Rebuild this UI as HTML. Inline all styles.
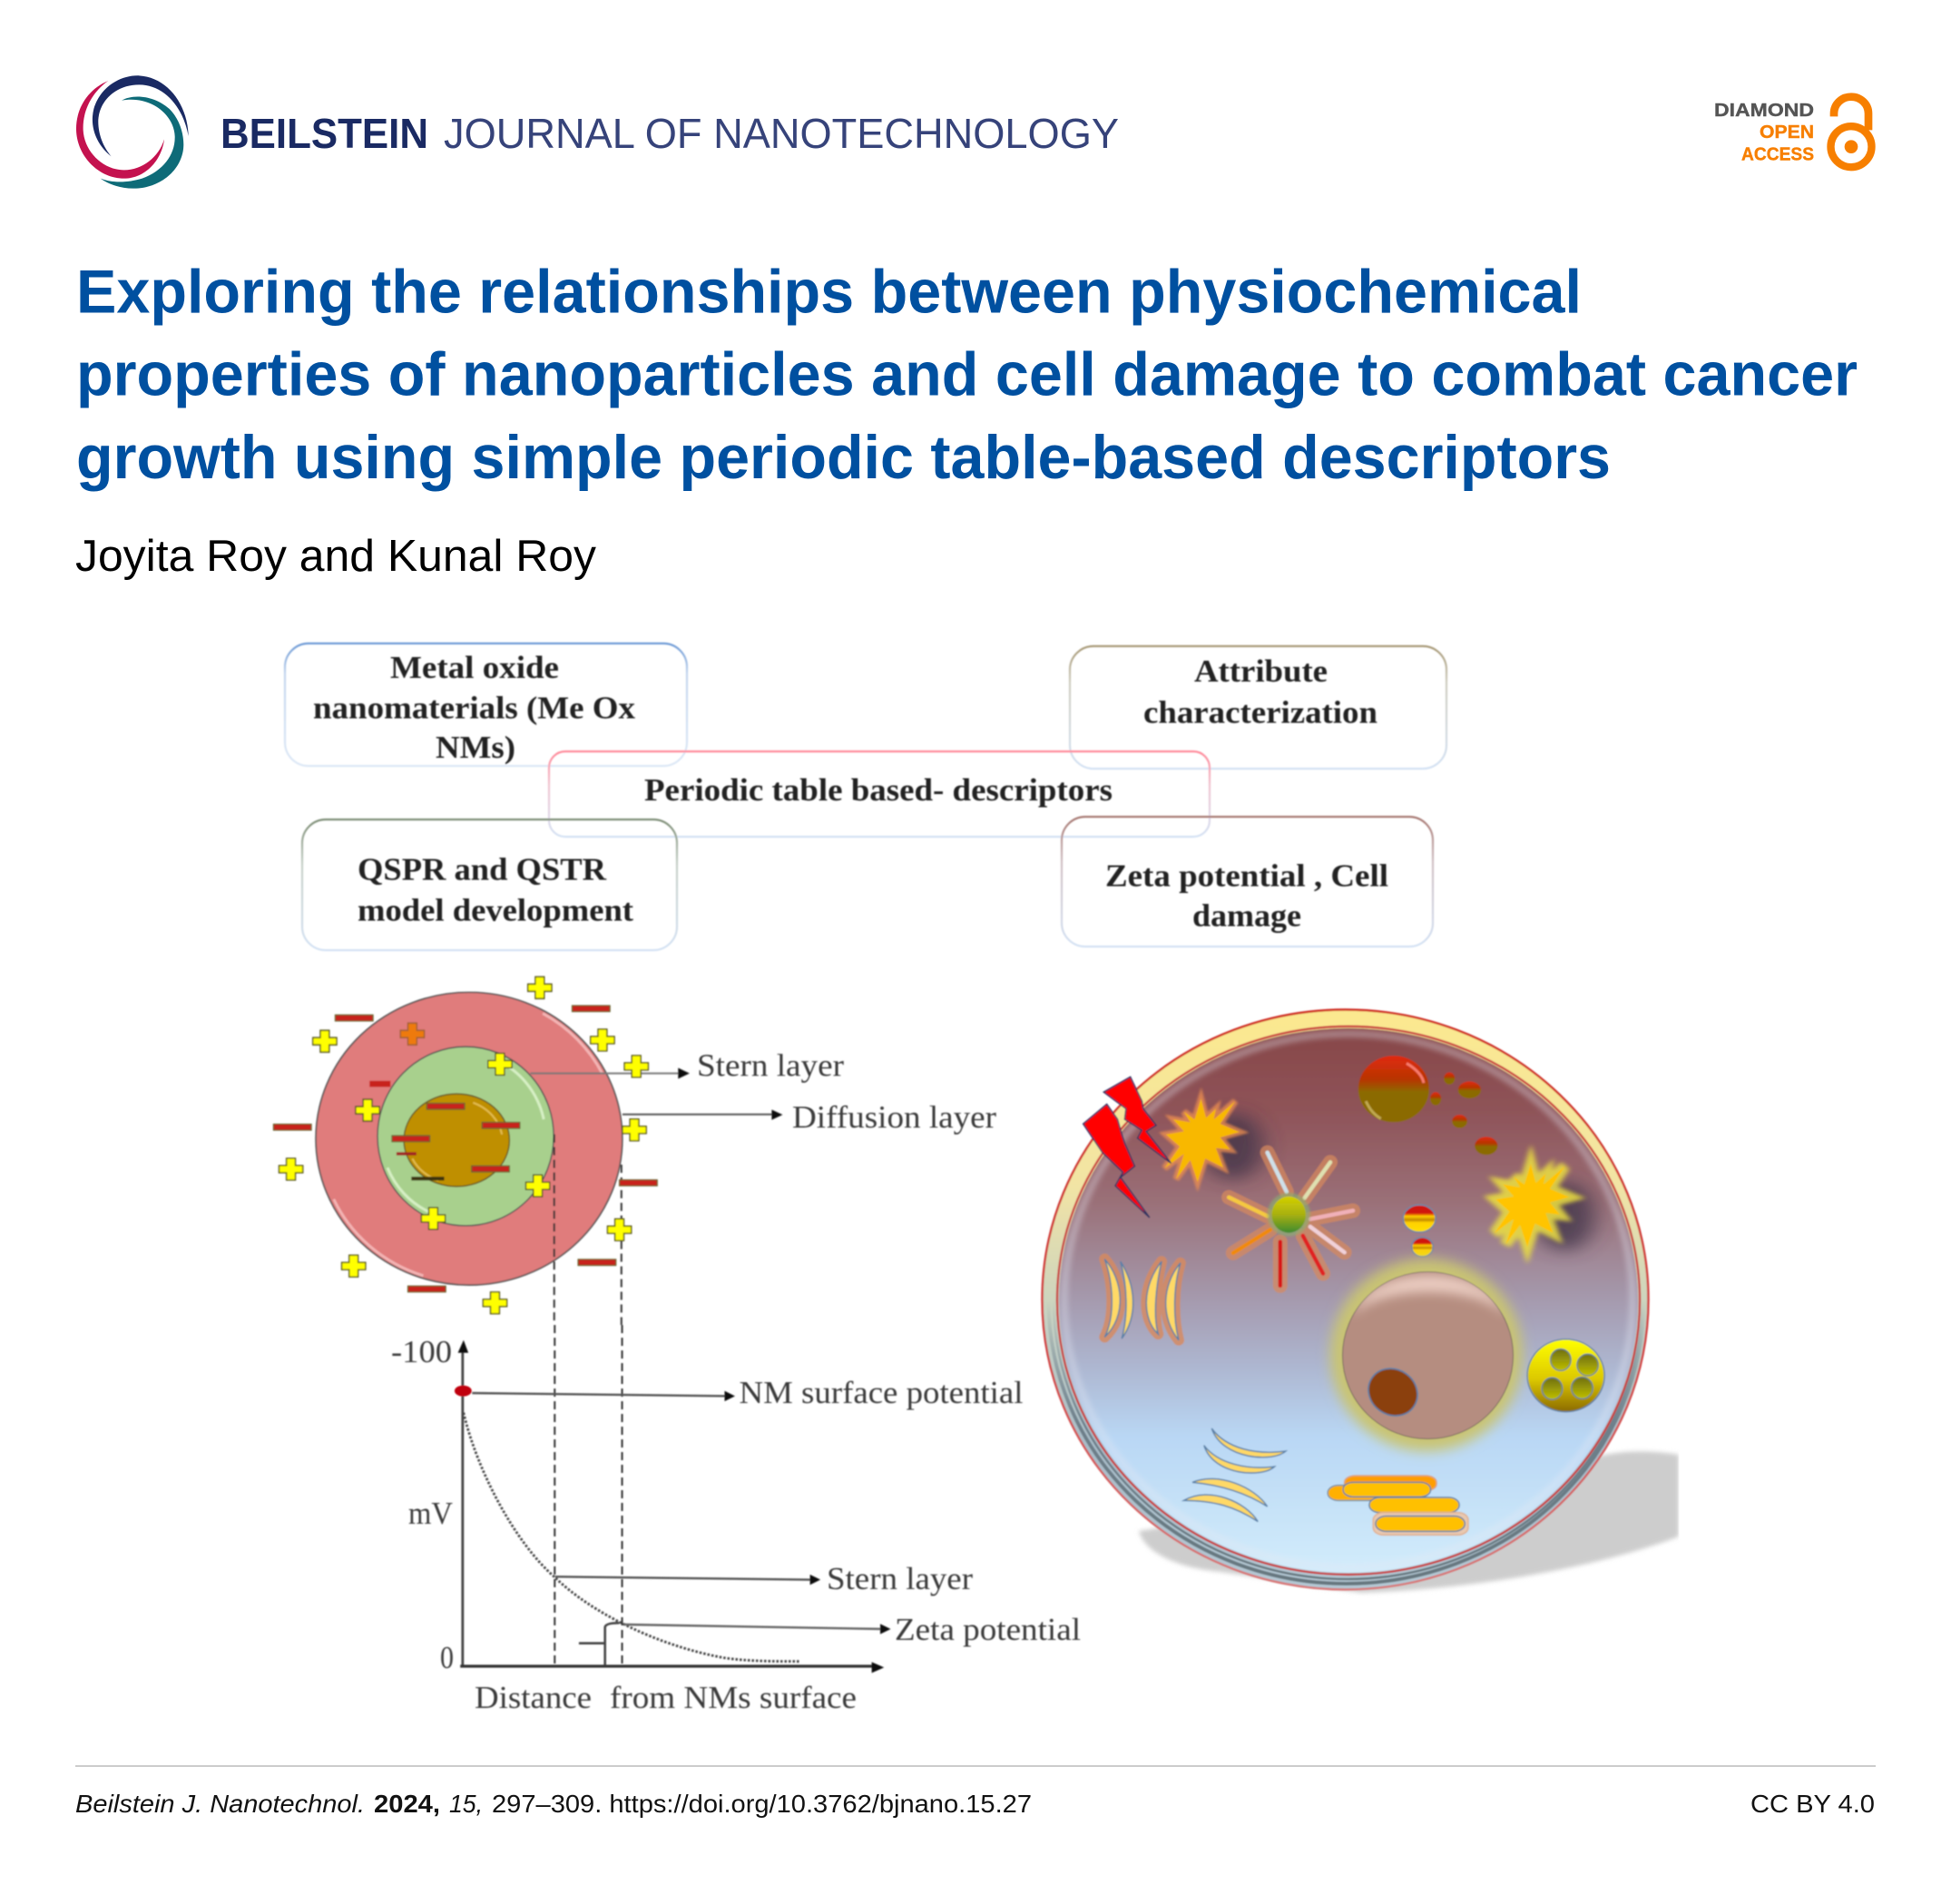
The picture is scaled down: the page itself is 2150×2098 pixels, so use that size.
<!DOCTYPE html>
<html lang="en">
<head>
<meta charset="utf-8">
<title>Beilstein J. Nanotechnol. graphical abstract</title>
<style>
html,body{margin:0;padding:0;background:#fff}
svg{display:block}
.ns,.ns *{vector-effect:non-scaling-stroke}
.h{font-family:"Liberation Sans",sans-serif}
.t{font-family:"Liberation Sans",sans-serif;font-weight:bold;font-size:68px;fill:#0050a0}
.b{font-family:"Liberation Serif",serif;font-weight:bold;font-size:35px;fill:#222}
.s{font-family:"Liberation Serif",serif;font-size:35px;fill:#3a3a3a}
.f{font-family:"Liberation Sans",sans-serif;font-size:28px;fill:#111}
</style>
</head>
<body>
<svg xmlns="http://www.w3.org/2000/svg" width="2150" height="2098" viewBox="0 0 2150 2098">
<defs>
  <filter id="bl" x="-5%" y="-5%" width="110%" height="110%"><feGaussianBlur stdDeviation="0.9"/></filter>
  <filter id="bl3" x="-30%" y="-30%" width="160%" height="160%"><feGaussianBlur stdDeviation="3"/></filter>
  <filter id="bl5" x="-30%" y="-30%" width="160%" height="160%"><feGaussianBlur stdDeviation="6"/></filter>
  <filter id="bl6" x="-30%" y="-30%" width="160%" height="160%"><feGaussianBlur stdDeviation="7"/></filter>
  <filter id="bl8" x="-100%" y="-100%" width="300%" height="300%"><feGaussianBlur stdDeviation="26"/></filter>
  <filter id="bls" x="-10%" y="-20%" width="120%" height="140%"><feGaussianBlur stdDeviation="2.5"/></filter>
  <linearGradient id="b1" x1="0" y1="0" x2="0" y2="1"><stop offset="0" stop-color="#6f9bd6"/><stop offset=".25" stop-color="#c4d6ee"/><stop offset="1" stop-color="#dde8f6"/></linearGradient>
  <linearGradient id="b2" x1="0" y1="0" x2="0" y2="1"><stop offset="0" stop-color="#a89a78"/><stop offset=".3" stop-color="#cfcdc0"/><stop offset="1" stop-color="#d4e2f4"/></linearGradient>
  <linearGradient id="b3" x1="0" y1="0" x2="0" y2="1"><stop offset="0" stop-color="#ff8a9a"/><stop offset=".4" stop-color="#f0c4d0"/><stop offset="1" stop-color="#d4e2f4"/></linearGradient>
  <linearGradient id="b4" x1="0" y1="0" x2="0" y2="1"><stop offset="0" stop-color="#7f8f78"/><stop offset=".35" stop-color="#c6d0c8"/><stop offset="1" stop-color="#d4e2f4"/></linearGradient>
  <linearGradient id="b5" x1="0" y1="0" x2="0" y2="1"><stop offset="0" stop-color="#a87a74"/><stop offset=".35" stop-color="#d0c0c4"/><stop offset="1" stop-color="#d4e2f4"/></linearGradient>
  <linearGradient id="ring" x1="0" y1="0" x2="0" y2="1"><stop offset="0" stop-color="#fbe88e"/><stop offset=".3" stop-color="#f2e4a4"/><stop offset=".55" stop-color="#c4d0c4"/><stop offset=".75" stop-color="#a8bcc8"/><stop offset="1" stop-color="#b4c8d4"/></linearGradient>
  <linearGradient id="greyln" x1="0" y1="0" x2="0" y2="1"><stop offset="0" stop-color="#6e7f8a" stop-opacity="0"/><stop offset=".5" stop-color="#6e7f8a" stop-opacity="0"/><stop offset=".72" stop-color="#6e7f8a"/><stop offset="1" stop-color="#66777f"/></linearGradient>
  <linearGradient id="redout" x1="0" y1="0" x2="0" y2="1"><stop offset="0" stop-color="#cf2a22"/><stop offset=".55" stop-color="#cf3a3a"/><stop offset="1" stop-color="#d87878"/></linearGradient>
  <linearGradient id="cyto" x1="0" y1="0" x2="0" y2="1"><stop offset="0" stop-color="#874748"/><stop offset=".15" stop-color="#8e5358"/><stop offset=".32" stop-color="#9a7078"/><stop offset=".5" stop-color="#a59aae"/><stop offset=".62" stop-color="#adb6d0"/><stop offset=".75" stop-color="#b9d7f4"/><stop offset="1" stop-color="#d2ecfb"/></linearGradient>
  <linearGradient id="ball" x1="0" y1="0" x2="0" y2="1"><stop offset="0" stop-color="#e02a10"/><stop offset=".35" stop-color="#b83400"/><stop offset=".55" stop-color="#8b6b00"/><stop offset="1" stop-color="#8b6b00"/></linearGradient>
  <linearGradient id="stripe" x1="0" y1="0" x2="0" y2="1"><stop offset="0" stop-color="#d01808"/><stop offset=".3" stop-color="#d01808"/><stop offset=".42" stop-color="#ffd000"/><stop offset=".55" stop-color="#c08800"/><stop offset=".65" stop-color="#ffd000"/><stop offset="1" stop-color="#ffe000"/></linearGradient>
  <linearGradient id="centro" x1="0" y1="0" x2="0" y2="1"><stop offset="0" stop-color="#d4d000"/><stop offset=".5" stop-color="#a8b010"/><stop offset="1" stop-color="#3e8a30"/></linearGradient>
  <linearGradient id="yb" x1="0" y1="0" x2="0" y2="1"><stop offset="0" stop-color="#ffff00"/><stop offset=".55" stop-color="#dcc800"/><stop offset="1" stop-color="#8b6a00"/></linearGradient>
  <linearGradient id="yi" x1="0" y1="0" x2="0" y2="1"><stop offset="0" stop-color="#6e6e10"/><stop offset="1" stop-color="#c0c000"/></linearGradient>
  <clipPath id="sc"><rect x="1100" y="1500" width="750" height="300"/></clipPath>
  <clipPath id="nc"><ellipse cx="1573.5" cy="1493.5" rx="94" ry="92"/></clipPath>
  <polygon id="star" style="vector-effect:non-scaling-stroke" points="410,362 422,425 445,395 440,430 490,370 455,445 500,472 455,490 478,530 445,525 462,590 420,560 402,637 385,565 352,628 370,545 325,592 360,520 328,480 370,470 345,430 385,440 370,405 395,430"/>
  <polygon id="pl" points="-9,-36 9,-36 9,-12 24,-12 24,12 9,12 9,36 -9,36 -9,12 -24,12 -24,-12 -9,-12" fill="#ffff00" stroke="#55551f" stroke-width="1.4" style="vector-effect:non-scaling-stroke"/>
  <polygon id="plo" points="-9,-36 9,-36 9,-12 24,-12 24,12 9,12 9,36 -9,36 -9,12 -24,12 -24,-12 -9,-12" fill="#ee7a10" stroke="#a06030" stroke-width="1.4" style="vector-effect:non-scaling-stroke"/>
  <rect id="mi" x="-38" y="-10" width="76" height="20" fill="#c8201c" stroke="#663" stroke-width="1.2" style="vector-effect:non-scaling-stroke"/>
</defs>

<!-- logo -->
<g transform="translate(60 60) scale(.33333)">
  <path d="M188 337C140 300 115 240 130 180C150 110 215 68 280 70C370 75 440 160 443 270C425 170 360 100 280 100C205 100 150 150 145 215C143 260 160 305 188 337Z" fill="#1a2a63"/>
  <path d="M222 152C260 130 330 135 380 180C420 220 432 280 425 320C410 400 330 445 260 443C220 443 180 430 152 410C190 425 240 425 290 410C360 385 400 330 398 270C395 200 320 135 222 152Z" fill="#0e6b78"/>
  <path d="M178 87C110 115 70 180 72 250C75 340 150 410 230 410C300 410 355 350 363 280C345 340 290 382 230 382C160 382 98 320 95 250C92 180 130 120 178 87Z" fill="#c4124f"/>
</g>
<text class="h" x="243" y="163" font-size="46" font-weight="bold" fill="#1a2a63" textLength="229" lengthAdjust="spacingAndGlyphs">BEILSTEIN</text>
<text class="h" x="489" y="163" font-size="46" fill="#36437a" textLength="744" lengthAdjust="spacingAndGlyphs">JOURNAL OF NANOTECHNOLOGY</text>

<!-- open access -->
<text class="h" x="1889" y="128" font-size="20" font-weight="bold" fill="#555" stroke="#555" stroke-width=".4" textLength="110" lengthAdjust="spacingAndGlyphs">DIAMOND</text>
<text class="h" x="1939" y="152" font-size="20" font-weight="bold" fill="#f77f00" stroke="#f77f00" stroke-width=".4" textLength="60" lengthAdjust="spacingAndGlyphs">OPEN</text>
<text class="h" x="1919" y="176.5" font-size="20" font-weight="bold" fill="#f77f00" stroke="#f77f00" stroke-width=".4" textLength="80" lengthAdjust="spacingAndGlyphs">ACCESS</text>
<g transform="translate(1860 80) scale(.33333)">
  <path d="M483 145V135A57 55 0 0 1 597 135V190" fill="none" stroke="#f77f00" stroke-width="26"/>
  <circle cx="540" cy="245" r="67.5" fill="#fff" stroke="#f77f00" stroke-width="25"/>
  <circle cx="540" cy="245" r="22" fill="#f77f00"/>
</g>

<!-- title -->
<text class="t" x="84" y="344.5" textLength="1659" lengthAdjust="spacingAndGlyphs">Exploring the relationships between physiochemical</text>
<text class="t" x="84" y="435.5" textLength="1963" lengthAdjust="spacingAndGlyphs">properties of nanoparticles and cell damage to combat cancer</text>
<text class="t" x="84" y="527" textLength="1691" lengthAdjust="spacingAndGlyphs">growth using simple periodic table-based descriptors</text>
<text class="h" x="83" y="629" font-size="49" fill="#000" textLength="574" lengthAdjust="spacingAndGlyphs">Joyita Roy and Kunal Roy</text>

<!-- figure -->
<g filter="url(#bl)">
  <!-- boxes -->
  <g fill="none" stroke-width="2.2">
    <rect x="314" y="709" width="443" height="135" rx="26" stroke="url(#b1)"/>
    <rect x="1179" y="712" width="415" height="135" rx="26" stroke="url(#b2)"/>
    <rect x="605" y="828" width="728" height="94" rx="18" stroke="url(#b3)"/>
    <rect x="333" y="903" width="413" height="144" rx="26" stroke="url(#b4)"/>
    <rect x="1170" y="900" width="409" height="143" rx="26" stroke="url(#b5)"/>
  </g>
  <text class="b" x="430" y="747" textLength="186" lengthAdjust="spacingAndGlyphs">Metal oxide</text>
  <text class="b" x="345" y="791.5" textLength="355" lengthAdjust="spacingAndGlyphs">nanomaterials (Me Ox</text>
  <text class="b" x="480" y="835" textLength="88" lengthAdjust="spacingAndGlyphs">NMs)</text>
  <text class="b" x="1316" y="751" textLength="147" lengthAdjust="spacingAndGlyphs">Attribute</text>
  <text class="b" x="1260" y="796.5" textLength="258" lengthAdjust="spacingAndGlyphs">characterization</text>
  <text class="b" x="710" y="882" textLength="516" lengthAdjust="spacingAndGlyphs">Periodic table based- descriptors</text>
  <text class="b" x="394" y="969.5" textLength="274" lengthAdjust="spacingAndGlyphs">QSPR and QSTR</text>
  <text class="b" x="394" y="1014.5" textLength="304" lengthAdjust="spacingAndGlyphs">model development</text>
  <text class="b" x="1218" y="976.5" textLength="312" lengthAdjust="spacingAndGlyphs">Zeta potential , Cell</text>
  <text class="b" x="1314" y="1020.5" textLength="120" lengthAdjust="spacingAndGlyphs">damage</text>

  <!-- concentric particle -->
  <g class="ns" transform="translate(280 1060) scale(.54847 .33333)">
    <ellipse cx="432" cy="584" rx="308" ry="484" fill="#e07b7b" stroke="#555" stroke-width="1.6"/>
    <path d="M580 170A300 476 0 0 1 700 370" fill="none" stroke="#f3b4b4" stroke-width="3"/>
    <path d="M160 784A300 476 0 0 0 340 1037" fill="none" stroke="#f3b4b4" stroke-width="3"/>
    <ellipse cx="425" cy="576" rx="177" ry="296" fill="#a8d08d" stroke="#555" stroke-width="1.4"/>
    <path d="M500 335A165 280 0 0 1 582 520" fill="none" stroke="#d6efc4" stroke-width="3"/>
    <path d="M268 680A165 280 0 0 0 350 825" fill="none" stroke="#d6efc4" stroke-width="3"/>
    <ellipse cx="407" cy="589" rx="106" ry="153" fill="#bf8f00" stroke="#6a5a20" stroke-width="1.4"/>
    <path d="M440 465A96 140 0 0 1 498 570" fill="none" stroke="#e4bd50" stroke-width="2"/>
    <path d="M318 650A96 140 0 0 0 370 722" fill="none" stroke="#e4bd50" stroke-width="2"/>
    <g>
      <path d="M555 368H860" stroke="#777" stroke-width="2" fill="none"/>
      <polygon points="852,350 875,368 852,386" fill="#111"/>
      <path d="M740 504H1042" stroke="#555" stroke-width="2" fill="none"/>
      <polygon points="1040,488 1062,505 1040,522" fill="#111"/>
      <path d="M603 570V1200" stroke="#333" stroke-width="2" stroke-dasharray="9 5" fill="none"/>
      <path d="M738 670V1200" stroke="#333" stroke-width="2" stroke-dasharray="9 5" fill="none"/>
    </g>
    <use href="#pl" x="574" y="85"/><use href="#pl" x="142" y="262"/><use href="#plo" x="318" y="238"/>
    <use href="#pl" x="700" y="258"/><use href="#pl" x="494" y="338"/><use href="#pl" x="768" y="345"/>
    <use href="#pl" x="228" y="490"/><use href="#pl" x="764" y="555"/><use href="#pl" x="74" y="685"/>
    <use href="#pl" x="570" y="740"/><use href="#pl" x="360" y="848"/><use href="#pl" x="734" y="885"/>
    <use href="#pl" x="200" y="1005"/><use href="#pl" x="484" y="1127"/>
    <use href="#mi" x="201" y="185"/><use href="#mi" x="677" y="154"/><use href="#mi" x="385" y="477"/>
    <use href="#mi" x="496" y="540"/><use href="#mi" x="77" y="546"/><use href="#mi" x="315" y="584"/>
    <use href="#mi" x="475" y="684"/><use href="#mi" x="772" y="730"/><use href="#mi" x="689" y="993"/>
    <use href="#mi" x="347" y="1081"/>
    <rect x="232" y="393" width="42" height="20" fill="#c8201c"/>
    <rect x="286" y="629" width="40" height="10" fill="#a02020"/>
    <rect x="316" y="710" width="66" height="12" fill="#3a3010"/>
  </g>
  <text class="s" x="768" y="1185.5" textLength="162" lengthAdjust="spacingAndGlyphs">Stern layer</text>
  <text class="s" x="873" y="1242.5" textLength="225" lengthAdjust="spacingAndGlyphs">Diffusion layer</text>

  <!-- potential chart -->
  <g class="ns" transform="translate(400 1460) scale(.52296 .33333)">
    <path d="M404 0V1125M546 0V1125" stroke="#333" stroke-width="2" stroke-dasharray="9 5" fill="none"/>
    <path d="M210 1128V80" stroke="#444" stroke-width="2.8" fill="none"/>
    <polygon points="212,50 200,92 222,92" fill="#111"/>
    <path d="M205 1128H1080" stroke="#333" stroke-width="3.2" fill="none"/>
    <polygon points="1098,1132 1072,1114 1072,1150" fill="#111"/>
    <path d="M212 290C240 480 320 720 405 835C480 950 620 1060 760 1100C810 1112 870 1112 920 1112" stroke="#444" stroke-width="2.8" stroke-dasharray="2.5 2" fill="none"/>
    <path d="M230 225L765 235" stroke="#555" stroke-width="2.4" fill="none"/>
    <polygon points="762,218 784,235 762,252" fill="#111"/>
    <path d="M405 832L945 842" stroke="#555" stroke-width="2.4" fill="none"/>
    <polygon points="942,825 964,842 942,859" fill="#111"/>
    <path d="M550 990L1095 1005" stroke="#666" stroke-width="2.4" fill="none"/>
    <polygon points="1090,988 1112,1005 1090,1022" fill="#111"/>
    <path d="M510 1125V1000Q510 985 540 985M455 1052H510" stroke="#444" stroke-width="2.6" fill="none"/>
    <ellipse cx="211" cy="218" rx="18" ry="18" fill="#c00010"/>
  </g>
  <text class="s" x="431" y="1501" textLength="67" lengthAdjust="spacingAndGlyphs">-100</text>
  <text class="s" x="450" y="1679" textLength="49" lengthAdjust="spacingAndGlyphs">mV</text>
  <text class="s" x="485" y="1838" textLength="15" lengthAdjust="spacingAndGlyphs">0</text>
  <text class="s" x="814.5" y="1546" textLength="313" lengthAdjust="spacingAndGlyphs">NM surface potential</text>
  <text class="s" x="911" y="1751" textLength="161" lengthAdjust="spacingAndGlyphs">Stern layer</text>
  <text class="s" x="986" y="1807" textLength="205" lengthAdjust="spacingAndGlyphs">Zeta potential</text>
  <text class="s" x="523" y="1882" textLength="129" lengthAdjust="spacingAndGlyphs">Distance</text>
  <text class="s" x="672" y="1882" textLength="272" lengthAdjust="spacingAndGlyphs">from NMs surface</text>

  <!-- cell -->
  <path clip-path="url(#sc)" d="M1255 1687C1262 1712 1300 1728 1345 1732L1500 1755C1650 1750 1780 1720 1850 1693V1603C1800 1595 1760 1600 1720 1620Z" fill="#cdcdcd" filter="url(#bls)"/>
  <ellipse cx="1482.5" cy="1432" rx="334" ry="319.5" fill="url(#ring)" stroke="url(#redout)" stroke-width="2.4"/>
  <ellipse cx="1483.5" cy="1433" rx="328" ry="312" fill="none" stroke="url(#greyln)" stroke-width="4"/>
  <ellipse cx="1485" cy="1433" rx="324" ry="307" fill="none" stroke="url(#greyln)" stroke-width="2.5"/>
  <ellipse cx="1486" cy="1433" rx="321" ry="302" fill="none" stroke="#c83a3a" stroke-width="2.4"/>
  <ellipse cx="1486" cy="1433" rx="319" ry="300" fill="url(#cyto)"/>
  <ellipse cx="1486" cy="1433" rx="313" ry="294" fill="none" stroke="#e4e8f4" stroke-opacity=".35" stroke-width="8" filter="url(#bl3)"/>

  <g class="ns" transform="translate(1130 1090) scale(.47192 .33333)">
    <!-- shadows -->
    <ellipse cx="485" cy="520" rx="70" ry="110" fill="#3c3246" opacity=".75" filter="url(#bl8)"/>
    <ellipse cx="1260" cy="750" rx="70" ry="115" fill="#3c3246" opacity=".75" filter="url(#bl8)"/>
    <!-- stars -->
    <use href="#star" fill="#f09050" stroke="#f09050" stroke-width="7" opacity=".75" filter="url(#bl3)"/>
    <use href="#star" fill="#f8b800"/>
    <use href="#star" transform="translate(770 215)" fill="#ece040" stroke="#ece040" stroke-width="12" opacity=".85" filter="url(#bl5)"/>
    <use href="#star" transform="translate(770 215)" fill="#ffc400"/>
    <!-- balls -->
    <ellipse cx="860" cy="330" rx="83" ry="110" fill="url(#ball)"/>
    <path d="M890 245C915 265 928 290 930 310" stroke="#f77a6a" stroke-width="3" fill="none"/>
    <path d="M795 370C805 400 815 415 830 428" stroke="#c0a850" stroke-width="3" fill="none"/>
    <ellipse cx="990" cy="295" rx="13" ry="20" fill="url(#ball)"/>
    <ellipse cx="1037" cy="333" rx="27" ry="28" fill="url(#ball)"/>
    <ellipse cx="958" cy="362" rx="13" ry="22" fill="url(#ball)"/>
    <ellipse cx="1014" cy="437" rx="18" ry="22" fill="url(#ball)"/>
    <ellipse cx="1076" cy="518" rx="27" ry="30" fill="url(#ball)"/>
    <ellipse cx="920" cy="758" rx="38" ry="45" fill="url(#stripe)" stroke="#6a88a8" stroke-width="1.5"/>
    <ellipse cx="927" cy="852" rx="25" ry="32" fill="url(#stripe)" stroke="#6a88a8" stroke-width="1.5"/>
    <!-- centrosome rays -->
    <g fill="none" stroke-linecap="round" stroke="#d88a5e" stroke-width="16" opacity=".7">
      <path d="M565 540L610 670M712 572L652 690M475 688L565 750M485 872L572 795M595 835V980M648 815L695 940M665 785L745 870M665 760L765 732"/>
    </g>
    <g fill="none" stroke-linecap="round" stroke-width="4.5">
      <path d="M565 540L610 670" stroke="#cfe0e8"/><path d="M712 572L652 690" stroke="#dfe0b0"/>
      <path d="M475 688L565 750" stroke="#f5c840"/><path d="M485 872L572 795" stroke="#f08a10"/>
      <path d="M595 835V980" stroke="#d81818"/><path d="M648 815L695 940" stroke="#e02020"/>
      <path d="M665 785L745 870" stroke="#f0d0d8"/><path d="M665 760L765 732" stroke="#f0b0b8"/>
    </g>
    <ellipse cx="615" cy="745" rx="50" ry="72" fill="#8ab070" opacity=".65" filter="url(#bl3)"/>
    <ellipse cx="615" cy="745" rx="40" ry="60" fill="url(#centro)"/>
    <!-- bolts -->
    <polygon points="245,290 272,370 275,395 305,450 282,470 340,575 262,492 272,466 232,430 235,395 183,340" fill="#ff0000" stroke="#2a3060" stroke-width="1.5"/>
    <polygon points="190,380 215,430 225,480 232,510 255,585 222,622 290,755 210,650 228,605 180,540 135,445" fill="#ff0000" stroke="#2a3060" stroke-width="1.5"/>
    <!-- crescents -->
    <g stroke="#d88a5e" stroke-width="12" stroke-linejoin="round" opacity=".8" fill="#d88a5e">
      <path d="M185 892C228 960 238 1080 185 1150C210 1080 205 970 185 892Z"/>
      <path d="M318 900C272 980 272 1090 310 1140C298 1080 305 980 318 900Z"/>
      <path d="M362 905C317 980 317 1090 358 1160C345 1090 345 985 362 905Z"/>
    </g>
    <g fill="#ffd966" stroke="#5a80a8" stroke-width="1.5">
      <path d="M185 892C228 960 238 1080 185 1150C210 1080 205 970 185 892Z"/>
      <path d="M222 900C258 980 263 1080 225 1155C240 1080 238 980 222 900Z"/>
      <path d="M318 900C272 980 272 1090 310 1140C298 1080 305 980 318 900Z"/>
      <path d="M362 905C317 980 317 1090 358 1160C345 1090 345 985 362 905Z"/>
    </g>
  </g>

  <!-- nucleus -->
  <ellipse cx="1572" cy="1493" rx="106" ry="106" fill="#c9c472" filter="url(#bl6)"/>
  <ellipse cx="1573.5" cy="1493.5" rx="94" ry="92" fill="#b58d80" stroke="#7a6a60" stroke-width="1"/>
  <g clip-path="url(#nc)"><path d="M1490 1450C1510 1390 1640 1390 1660 1450C1630 1415 1520 1415 1490 1450Z" fill="#f4d8ce" fill-opacity=".85" filter="url(#bl5)"/></g>
  <ellipse cx="1535" cy="1534" rx="28" ry="25" transform="rotate(35 1535 1534)" fill="#8b3f0d" stroke="#5a80a8" stroke-width="1.6"/>
  <ellipse cx="1725.6" cy="1515.7" rx="42.5" ry="40" fill="url(#yb)" stroke="#5a80a8" stroke-width="1.4"/>

  <g class="ns" transform="translate(1130 1400) scale(.47192 .33333)">
    <g fill="url(#yi)" stroke="#5a80a8" stroke-width="1.2">
      <ellipse cx="1250" cy="295" rx="24" ry="36"/><ellipse cx="1313" cy="312" rx="25" ry="36"/>
      <ellipse cx="1230" cy="390" rx="24" ry="36"/><ellipse cx="1300" cy="388" rx="25" ry="36"/>
    </g>
    <g fill="#ffd966" stroke="#5a80a8" stroke-width="1.5">
      <path d="M435 522C470 590 540 610 608 597C578 635 460 625 435 522Z"/>
      <path d="M417 578C450 640 520 660 582 648C555 685 440 680 417 578Z"/>
      <path d="M390 700C450 665 535 715 565 780C510 730 450 708 390 700Z"/>
      <path d="M370 760C430 712 515 765 543 830C490 780 440 760 370 760Z"/>
    </g>
    <rect x="745" y="678" width="215" height="50" rx="25" ry="22" fill="#ff9e00" stroke="#d8a080" stroke-width="1.5"/>
    <rect x="706" y="710" width="120" height="50" rx="25" ry="24" fill="#ffb000" stroke="#7a90a0" stroke-width="1.5"/>
    <rect x="742" y="700" width="204" height="48" rx="24" ry="22" fill="#ffc000" stroke="#5a80a8" stroke-width="1.5"/>
    <rect x="803" y="750" width="210" height="50" rx="25" ry="24" fill="#ffc000" stroke="#5a80a8" stroke-width="1.5"/>
    <rect x="812" y="800" width="222" height="74" rx="24" ry="24" fill="#e8c8b0" stroke="#e0b090" stroke-width="1.5"/>
    <rect x="818" y="812" width="208" height="50" rx="25" ry="24" fill="#ffc000" stroke="#5a80a8" stroke-width="1.5"/>
  </g>
</g>

<!-- footer -->
<rect x="83" y="1945" width="1984" height="2" fill="#ccc"/>
<text class="f" x="83" y="1997" font-style="italic" textLength="319" lengthAdjust="spacingAndGlyphs">Beilstein J. Nanotechnol.</text>
<text class="f" x="412" y="1997" font-weight="bold" textLength="73" lengthAdjust="spacingAndGlyphs">2024,</text>
<text class="f" x="495" y="1997" font-style="italic" textLength="37" lengthAdjust="spacingAndGlyphs">15,</text>
<text class="f" x="542" y="1997" textLength="595" lengthAdjust="spacingAndGlyphs">297–309. https://doi.org/10.3762/bjnano.15.27</text>
<text class="f" x="1929" y="1997" textLength="137" lengthAdjust="spacingAndGlyphs">CC BY 4.0</text>
</svg>
</body>
</html>
